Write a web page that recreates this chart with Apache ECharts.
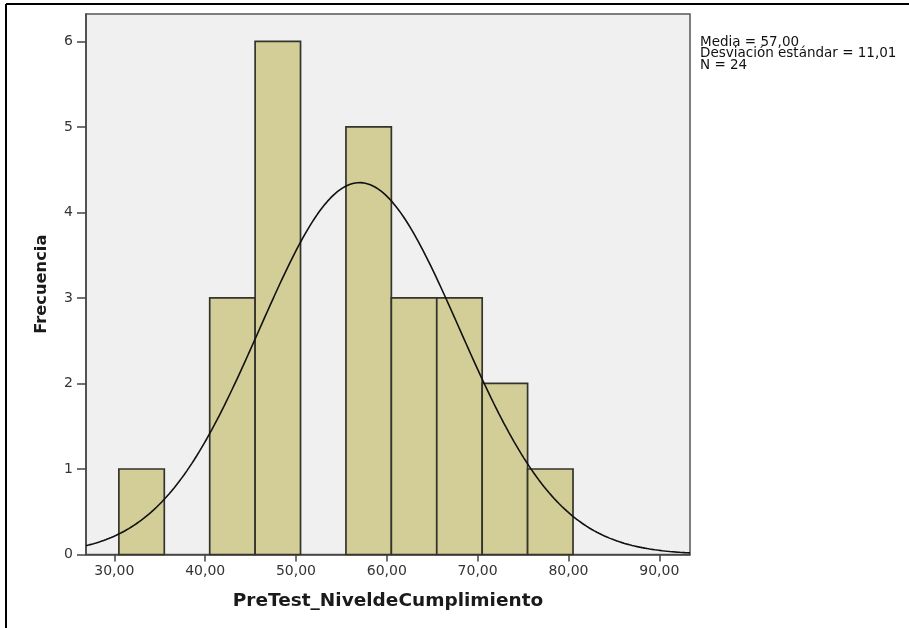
<!DOCTYPE html>
<html>
<head>
<meta charset="utf-8">
<script src="https://cdn.jsdelivr.net/npm/echarts@6/dist/echarts.min.js"></script>
<style>
  html, body { margin: 0; padding: 0; background: #fff; }
  #chart { width: 909px; height: 628px; }
</style>
</head>
<body>
<div id="chart"></div>
<script>
// Histogram bins (lower edge, upper edge) and their counts
const binStarts = [30.5, 35.5, 40.5, 45.5, 50.5, 55.5, 60.5, 65.5, 70.5, 75.5];
const binEnds   = [35.5, 40.5, 45.5, 50.5, 55.5, 60.5, 65.5, 70.5, 75.5, 80.5];
const counts    = [1, 0, 3, 6, 0, 5, 3, 3, 2, 1];

// Summary statistics shown beside the plot
const mean = 57.00;
const stdDev = 11.01;
const n = 24;
const binWidth = 5;

// Axis ranges and tick labels
const xMin = 26.88, xMax = 93.38;
const xTicks = [30, 40, 50, 60, 70, 80, 90];
const yTicks = [0, 1, 2, 3, 4, 5, 6];
const yMax = 6.32;

// Fitted normal curve scaled to counts per bin
const curve = [];
const steps = 240;
for (let i = 0; i <= steps; i++) {
  const x = xMin + (xMax - xMin) * i / steps;
  const z = (x - mean) / stdDev;
  const y = n * binWidth * Math.exp(-0.5 * z * z) / (stdDev * Math.sqrt(2 * Math.PI));
  curve.push([x, y]);
}

const histData = binStarts.map((s, i) => [s, binEnds[i], counts[i]]).filter(d => d[2] > 0);

const fmt = v => v.toFixed(2).replace('.', ',');
const FONT = 'DejaVu Sans';

const chart = echarts.init(document.getElementById('chart'), null, { renderer: 'canvas' });
chart.setOption({
  animation: false,
  backgroundColor: '#ffffff',
  grid: {
    left: 86, top: 14, right: 219, bottom: 73.5,
    show: true, backgroundColor: '#f0f0f0', borderColor: '#555555', borderWidth: 1.5
  },
  xAxis: {
    type: 'value', min: xMin, max: xMax,
    name: 'PreTest_NiveldeCumplimiento',
    nameLocation: 'middle', nameGap: 37,
    nameTextStyle: { fontFamily: FONT, fontWeight: 'bold', fontSize: 18.5, color: '#1a1a1a' },
    axisLine: { show: true, onZero: false, lineStyle: { color: '#444', width: 1.5 } },
    axisTick: { show: true, length: 7, customValues: xTicks, lineStyle: { color: '#444', width: 1.5 } },
    axisLabel: { customValues: xTicks, formatter: fmt, fontFamily: FONT, fontSize: 14, color: '#333', margin: 10 },
    splitLine: { show: false }
  },
  yAxis: {
    type: 'value', min: 0, max: yMax,
    name: 'Frecuencia',
    nameLocation: 'middle', nameGap: 36, nameRotate: 90,
    nameTextStyle: { fontFamily: FONT, fontWeight: 'bold', fontSize: 16.3, color: '#1a1a1a' },
    axisLine: { show: true, lineStyle: { color: '#444', width: 1.5 } },
    axisTick: { show: true, length: 9, customValues: yTicks, lineStyle: { color: '#444', width: 1.5 } },
    axisLabel: { customValues: yTicks, fontFamily: FONT, fontSize: 14, color: '#333', margin: 13 },
    splitLine: { show: false }
  },
  series: [
    {
      type: 'custom',
      data: histData,
      renderItem: function (params, api) {
        const p0 = api.coord([api.value(0), 0]);
        const p1 = api.coord([api.value(1), api.value(2)]);
        return {
          type: 'rect',
          shape: { x: p0[0], y: p1[1], width: p1[0] - p0[0], height: p0[1] - p1[1] },
          style: { fill: '#d3ce98', stroke: '#34342c', lineWidth: 1.7 }
        };
      },
      z: 2
    },
    {
      type: 'line',
      data: curve,
      showSymbol: false,
      smooth: false,
      lineStyle: { color: '#111', width: 1.6 },
      z: 3
    }
  ],
  graphic: [
    { type: 'line', shape: { x1: 6, y1: 4, x2: 909, y2: 4 }, style: { stroke: '#000', lineWidth: 2 } },
    { type: 'line', shape: { x1: 6, y1: 4, x2: 6, y2: 628 }, style: { stroke: '#000', lineWidth: 2 } },
    {
      type: 'text', left: 700, top: 35,
      style: {
        text: 'Media = ' + fmt(mean) + '\nDesviación estándar = ' + fmt(stdDev) + '\nN = ' + n,
        fontFamily: FONT, fontSize: 13.5, lineHeight: 11.5, fill: '#111'
      }
    }
  ]
});
</script>
</body>
</html>
